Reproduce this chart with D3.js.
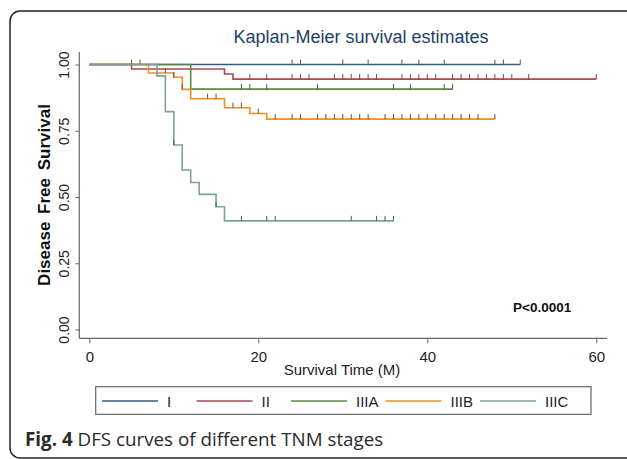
<!DOCTYPE html>
<html>
<head>
<meta charset="utf-8">
<script src="https://cdn.jsdelivr.net/npm/d3@7"></script>
<style>
  body { margin: 0; background: #fff; }
  svg { display: block; }
</style>
</head>
<body>
<div id="chart"></div>
<script>
// stages and colours
var stages = ["I", "II", "IIIA", "IIIB", "IIIC"];
var colors = ["#2f5f8a", "#b0474f", "#5a8a3a", "#f28e1c", "#7aa497"];

// step curves: event times (M) and survival after each step
var timesI = [0];
var survI = [1.0];
var endI = 51;
var censI = [5, 6, 24, 25, 30, 33, 37, 39, 42, 48, 49, 51];

var timesII = [0, 5, 16, 17];
var survII = [1.0, 0.983, 0.964, 0.945];
var endII = 60;
var censII = [19, 21, 24, 25, 26, 29, 30, 31, 32, 33, 34, 37, 38, 39, 40, 41, 43, 44, 45, 46, 47, 48, 49, 50, 52, 60];

var timesIIIA = [0, 12];
var survIIIA = [1.0, 0.907];
var endIIIA = 43;
var censIIIA = [18, 19, 21, 27, 36, 38, 42, 43];

var timesIIIB = [0, 7, 10, 11, 12, 16, 19, 21];
var survIIIB = [1.0, 0.968, 0.952, 0.906, 0.871, 0.837, 0.815, 0.794];
var endIIIB = 48;
var censIIIB = [9, 10, 11, 14, 15, 17, 18, 20, 22, 24, 25, 27, 28, 29, 30, 31, 32, 33, 35, 36, 37, 38, 39, 40, 41, 42, 43, 44, 45, 46, 48];

var timesIIIC = [0, 8, 9, 10, 11, 12, 13, 15, 16];
var survIIIC = [1.0, 0.957, 0.822, 0.696, 0.602, 0.555, 0.51, 0.463, 0.41];
var endIIIC = 36;
var censIIIC = [10, 15, 18, 21, 22, 31, 34, 35, 36];

var xTicks = [0, 20, 40, 60];
var yTicks = [0, 0.25, 0.5, 0.75, 1];

var groups = [
  {times: timesI, surv: survI, end: endI, cens: censI},
  {times: timesII, surv: survII, end: endII, cens: censII},
  {times: timesIIIA, surv: survIIIA, end: endIIIA, cens: censIIIA},
  {times: timesIIIB, surv: survIIIB, end: endIIIB, cens: censIIIB},
  {times: timesIIIC, surv: survIIIC, end: endIIIC, cens: censIIIC}
];

var width = 627, height = 459;
var sans = "'Liberation Sans', Arial, sans-serif";

var svg = d3.select("#chart")
  .append("svg")
    .attr("width", width)
    .attr("height", height);

// figure frame
svg.append("rect")
  .attr("x", 10).attr("y", 11)
  .attr("width", 640).attr("height", 447)
  .attr("rx", 10)
  .attr("fill", "none")
  .attr("stroke", "#222")
  .attr("stroke-width", 1.5);

var x = d3.scaleLinear().domain([0, 60]).range([89.3, 596.3]);
var y = d3.scaleLinear().domain([0, 1]).range([329.5, 64.5]);

var axisX0 = 79.3, axisY0 = 338.3;

// title
svg.append("text")
  .attr("x", 361).attr("y", 43)
  .attr("text-anchor", "middle")
  .attr("font-family", sans)
  .attr("font-size", 18)
  .attr("fill", "#1e3f66")
  .text("Kaplan-Meier survival estimates");

// axis lines
svg.append("line")
  .attr("x1", axisX0).attr("x2", axisX0)
  .attr("y1", 52).attr("y2", axisY0)
  .attr("stroke", "#666").attr("stroke-width", 1.2);
svg.append("line")
  .attr("x1", axisX0).attr("x2", 607)
  .attr("y1", axisY0).attr("y2", axisY0)
  .attr("stroke", "#666").attr("stroke-width", 1.2);

// X axis
var gx = svg.append("g")
  .attr("transform", "translate(0," + axisY0 + ")")
  .call(d3.axisBottom(x).tickValues(xTicks).tickSize(5).tickPadding(8));
gx.select(".domain").remove();
gx.selectAll("line").attr("stroke", "#666");
gx.selectAll("text")
  .attr("font-family", sans)
  .attr("font-size", 15)
  .attr("fill", "#222");

// Y axis
var gy = svg.append("g")
  .attr("transform", "translate(" + axisX0 + ",0)")
  .call(d3.axisLeft(y).tickValues(yTicks).tickSize(4).tickFormat(d3.format(".2f")));
gy.select(".domain").remove();
gy.selectAll("line").attr("stroke", "#666");
gy.selectAll("text")
  .attr("font-family", sans)
  .attr("font-size", 14)
  .attr("fill", "#222")
  .attr("text-anchor", "middle")
  .attr("x", 0).attr("dy", 0)
  .attr("transform", "translate(-10,0) rotate(-90)");

// axis titles
svg.append("text")
  .attr("x", 342).attr("y", 375)
  .attr("text-anchor", "middle")
  .attr("font-family", sans)
  .attr("font-size", 15)
  .attr("fill", "#222")
  .text("Survival Time (M)");

svg.append("text")
  .attr("transform", "translate(50,195) rotate(-90)")
  .attr("text-anchor", "middle")
  .attr("font-family", sans)
  .attr("font-weight", "bold")
  .attr("font-size", 17)
  .attr("word-spacing", 3)
  .attr("fill", "#111")
  .text("Disease Free Survival");

// survival curves
var line = d3.line()
  .x(function(d) { return x(d[0]); })
  .y(function(d) { return y(d[1]); })
  .curve(d3.curveStepAfter);

groups.forEach(function(g, i) {
  var pts = g.times.map(function(t, j) { return [t, g.surv[j]]; });
  pts.push([g.end, g.surv[g.surv.length - 1]]);
  svg.append("path")
    .attr("d", line(pts))
    .attr("fill", "none")
    .attr("stroke", colors[i])
    .attr("stroke-width", 1.6);

  // survival level at a given time
  function level(t) {
    var v = g.surv[0];
    g.times.forEach(function(tt, j) { if (tt <= t) v = g.surv[j]; });
    return v;
  }

  svg.append("g").selectAll("line")
    .data(g.cens)
    .enter()
    .append("line")
      .attr("x1", function(d) { return x(d); })
      .attr("x2", function(d) { return x(d); })
      .attr("y1", function(d) { return y(level(d)); })
      .attr("y2", function(d) { return y(level(d)) - 5; })
      .attr("stroke", "#555")
      .attr("stroke-width", 1);
});

// p-value
svg.append("text")
  .attr("x", 513).attr("y", 311.5)
  .attr("font-family", sans)
  .attr("font-weight", "bold")
  .attr("font-size", 13.5)
  .attr("fill", "#111")
  .text("P<0.0001");

// legend
svg.append("rect")
  .attr("x", 95.7).attr("y", 386.7)
  .attr("width", 495.3).attr("height", 27.6)
  .attr("fill", "none")
  .attr("stroke", "#666")
  .attr("stroke-width", 1.2);

var leg = svg.append("g").selectAll("g")
  .data(stages)
  .enter()
  .append("g")
    .attr("transform", function(d, i) { return "translate(" + (102 + i * 94.5) + ",401)"; });
leg.append("line")
  .attr("x1", 0).attr("x2", 56)
  .attr("stroke", function(d, i) { return colors[i]; })
  .attr("stroke-width", 1.6);
leg.append("text")
  .attr("x", 65).attr("y", 5.5)
  .attr("font-family", sans)
  .attr("font-size", 15)
  .attr("fill", "#222")
  .text(function(d) { return d; });

// caption
var cap = svg.append("text")
  .attr("x", 25).attr("y", 446)
  .attr("font-family", "'Open Sans', 'Noto Sans', sans-serif")
  .attr("font-size", 18.8)
  .attr("fill", "#2a2a2a");
cap.append("tspan").attr("font-weight", "bold").text("Fig. 4");
cap.append("tspan").text(" DFS curves of different TNM stages");
</script>
</body>
</html>
